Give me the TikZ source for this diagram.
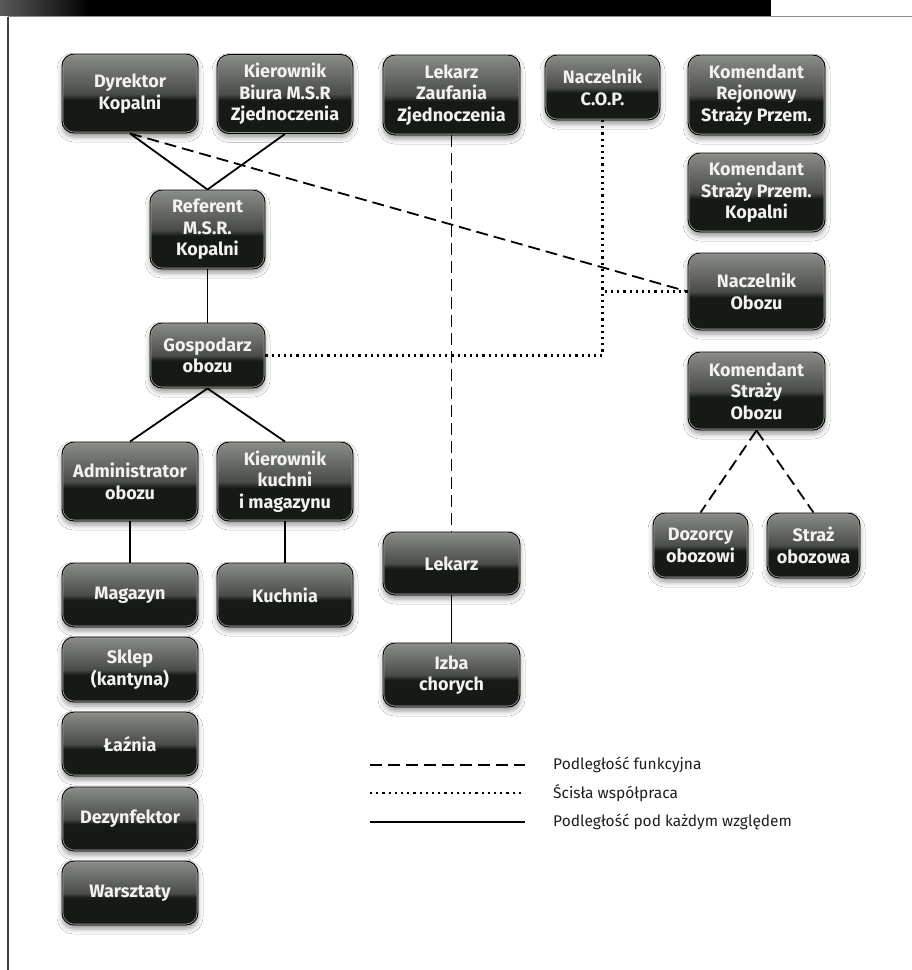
\documentclass[tikz,border=0pt]{standalone}
\usepackage{fontspec}
\setmainfont{Fira Sans}
\usetikzlibrary{shadows.blur}

\definecolor{glosstop}{RGB}{138,141,135}
\definecolor{glossmid}{RGB}{74,77,71}
\definecolor{glossdark}{RGB}{22,26,20}
\definecolor{glossedge}{RGB}{150,152,148}
\definecolor{boxtext}{RGB}{242,242,240}
\definecolor{legendtext}{RGB}{30,30,30}

% glossy fill: dark lower half, grey gradient upper half
\pgfdeclareverticalshading{gloss}{100bp}{color(0bp)=(glossdark); color(25bp)=(glossdark); color(46bp)=(glossdark); color(50bp)=(glossmid); color(75bp)=(glosstop); color(100bp)=(glosstop)}

\tikzset{
  orgbox/.style={rounded corners=12pt, minimum width=136pt, minimum height=79pt,
    inner sep=0pt, align=center, shade, shading=gloss, draw=black, line width=0.9pt,
    text=boxtext, font=\bfseries\fontsize{18}{21.5}\selectfont,
    blur shadow={shadow xshift=0pt, shadow yshift=-4pt, shadow blur radius=5pt, shadow opacity=40},
    path picture={\draw[glossedge, line width=2.6pt, rounded corners=12pt]
      (path picture bounding box.south west) rectangle (path picture bounding box.north east);}},
  conn/.style={line width=1.8pt, black},
  fdash/.style={conn, dash pattern=on 12pt off 6pt},
  fdot/.style={line width=2.2pt, black, dash pattern=on 2.2pt off 4pt},
  legtext/.style={anchor=west, inner sep=0pt, text=legendtext, font=\fontsize{15.5}{18}\selectfont},
}

\begin{document}
\begin{tikzpicture}[x=1pt, y=-1pt]
\useasboundingbox (0,0) rectangle (912,970);
\fill[white] (0,0) rectangle (912,970);

% page frame: header bar, rule and left margin line
\fill[black] (0,0) rectangle (771,15.5);
\shade[left color=black!65, right color=black] (0,0) rectangle (90,15.5);
\draw[black!45, line width=1.5pt] (7.5,16.5) -- (912,16.5);
\draw[black!75, line width=1.2pt] (8,16.5) -- (8,970);

% top row
\node[orgbox] (dyr) at (130,93.5) {Dyrektor\\Kopalni};
\node[orgbox] (kbm) at (285,94) {Kierownik\\Biura M.S.R\\Zjednoczenia};
\node[orgbox, minimum width=137pt, minimum height=80pt] (lzz) at (451.5,95) {Lekarz\\Zaufania\\Zjednoczenia};
\node[orgbox, minimum width=115pt, minimum height=65pt] (ncop) at (602.5,87.5) {Naczelnik\\C.O.P.};
\node[orgbox, minimum width=137pt, minimum height=80pt] (krs) at (756.5,95) {Komendant\\Rejonowy\\Straży Przem.};

% right column
\node[orgbox, minimum width=137pt, minimum height=79pt] (kspk) at (756.5,192.5) {Komendant\\Straży Przem.\\Kopalni};
\node[orgbox, minimum width=137pt, minimum height=77pt] (nob) at (756.5,291.5) {Naczelnik\\Obozu};
\node[orgbox, minimum width=137pt, minimum height=78pt] (kso) at (756.5,391) {Komendant\\Straży\\Obozu};
\node[orgbox, minimum width=95pt, minimum height=65pt] (doz) at (700.5,545.5) {Dozorcy\\obozowi};
\node[orgbox, minimum width=93pt, minimum height=65pt] (str) at (813.5,545.5) {Straż\\obozowa};

% main chain
\node[orgbox, minimum width=115pt, minimum height=79pt] (ref) at (207.5,229.5) {Referent\\M.S.R.\\Kopalni};
\node[orgbox, minimum width=115pt, minimum height=65pt] (gosp) at (207.5,355.5) {Gospodarz\\obozu};
\node[orgbox] (adm) at (130,481.5) {Administrator\\obozu};
\node[orgbox] (kkm) at (285,481.5) {Kierownik\\kuchni\\i magazynu};
\node[orgbox, minimum height=64pt] (mag) at (130,595) {Magazyn};
\node[orgbox, minimum height=64pt] (kuch) at (285,595) {Kuchnia};
\node[orgbox, minimum height=65pt] (skl) at (130,669.5) {Sklep\\(kantyna)};
\node[orgbox, minimum height=64pt] (laz) at (130,744) {Łaźnia};
\node[orgbox, minimum height=64pt] (dez) at (130,819) {Dezynfektor};
\node[orgbox, minimum height=64pt] (war) at (130,893) {Warsztaty};

% medical
\node[orgbox, minimum width=137pt, minimum height=63pt] (lek) at (451.5,563.5) {Lekarz};
\node[orgbox, minimum width=137pt, minimum height=64pt] (izba) at (451.5,675) {Izba\\chorych};

% full subordination
\draw[conn] (dyr.south) -- (ref.north);
\draw[conn] (kbm.south) -- (ref.north);
\draw[conn] (ref.south) -- (gosp.north);
\draw[conn] (gosp.south) -- (adm.north);
\draw[conn] (gosp.south) -- (kkm.north);
\draw[conn] (adm.south) -- (mag.north);
\draw[conn] (kkm.south) -- (kuch.north);
\draw[conn] (lek.south) -- (izba.north);

% functional subordination
\draw[fdash] (dyr.south) -- (nob.west);
\draw[fdash] (lzz.south) -- (lek.north);
\draw[fdash] (kso.south) -- (doz.north);
\draw[fdash] (kso.south) -- (str.north);

% close cooperation
\draw[fdot] (gosp.east) -| (ncop.south);
\draw[fdot] (nob.west) -- (nob.west -| ncop.south);

% legend
\coordinate (la1) at (370,765); \coordinate (lb1) at (525,765);
\coordinate (la2) at (370,793); \coordinate (lb2) at (525,793);
\coordinate (la3) at (370,822); \coordinate (lb3) at (525,822);
\draw[fdash] (la1) -- (lb1);
\draw[fdot] (la2) -- (lb2);
\draw[conn] (la3) -- (lb3);
\node[legtext] (lt1) at (553,765) {Podległość funkcyjna};
\node[legtext] (lt2) at (553,793) {Ścisła współpraca};
\node[legtext] (lt3) at (553,822) {Podległość pod każdym względem};
\end{tikzpicture}
\end{document}
